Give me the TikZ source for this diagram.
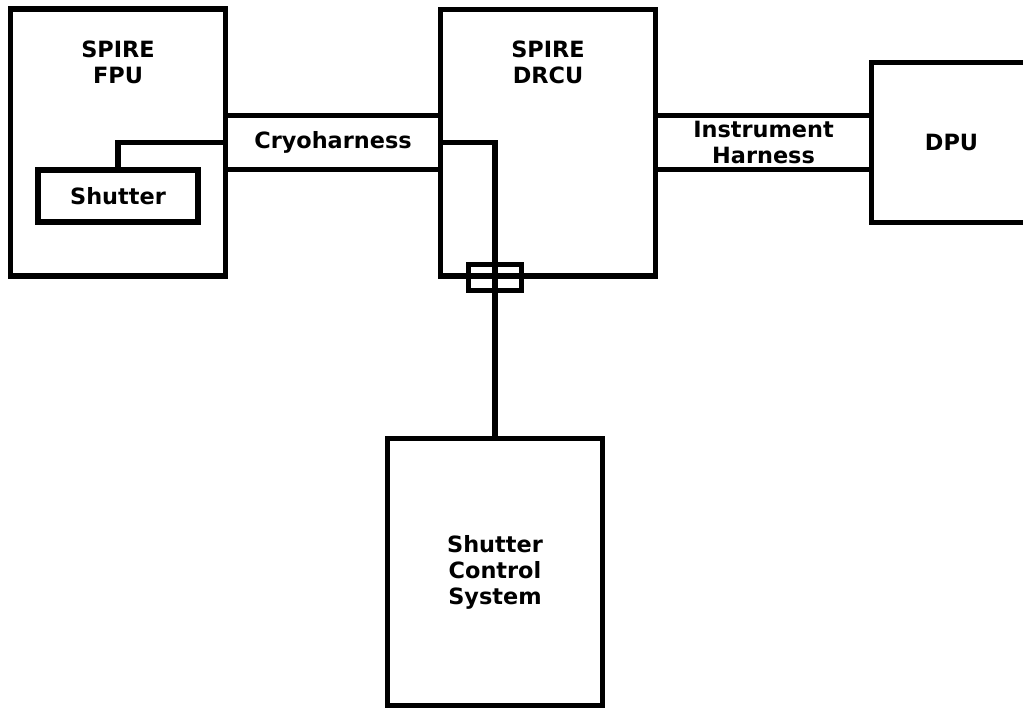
\documentclass[tikz,border=0pt]{standalone}
\usepackage{fontspec}
\setmainfont{DejaVu Sans}
\usetikzlibrary{calc}
\begin{document}
\begin{tikzpicture}[x=0.75pt,y=-0.75pt,
  every node/.style={font=\bfseries\fontsize{16.8pt}{19.5pt}\selectfont, inner sep=0pt, outer sep=0pt},
  box/.style={draw=black, fill=white, line width=3.9pt, rectangle},
  wire/.style={draw=black, line width=3.9pt},
  lbl/.style={align=center}
]
\useasboundingbox (0,0) rectangle (1023,708);
\begin{scope}
\clip (0,0) rectangle (1023,708);
% main boxes
\node[box, minimum width=161.25pt, minimum height=200.25pt] (fpu) at (118,142.5) {};
\node[box, minimum width=161.25pt, minimum height=199.875pt] (drcu) at (548,142.75) {};
\node[box, minimum width=120pt, minimum height=120pt] (dpu) at (951.5,142.5) {DPU};
\node[box, minimum width=161.25pt, minimum height=200.25pt, lbl] (scs) at (495,572) {Shutter\\Control\\System};
\node[box, minimum width=120pt, minimum height=39pt] (shutter) at (118,196) {Shutter};
\node[draw=black, line width=3.9pt, minimum width=39.75pt, minimum height=19.5pt] (conn) at (495,277.5) {};
% titles
\node[lbl] (fputitle) at ([yshift=-40.1pt]fpu.north) {SPIRE\\FPU};
\node[lbl] (drcutitle) at ([yshift=-39.75pt]drcu.north) {SPIRE\\DRCU};
% harnesses
\draw[wire] ([yshift=20.25pt]fpu.east) -- ([yshift=20.25pt]fpu.east -| drcu.west);
\draw[wire] ([yshift=-20.25pt]fpu.east) -- ([yshift=-20.25pt]fpu.east -| drcu.west);
\node[lbl] (cryo) at ($(fpu.east)!0.5!(fpu.east -| drcu.west)$) {Cryoharness};
\draw[wire] ([yshift=20.25pt]dpu.west -| drcu.east) -- ([yshift=20.25pt]dpu.west);
\draw[wire] ([yshift=-20.25pt]dpu.west -| drcu.east) -- ([yshift=-20.25pt]dpu.west);
\node[lbl] (instr) at ($(dpu.west -| drcu.east)!0.5!(dpu.west)$) {Instrument\\Harness};
% shutter control wiring
\draw[wire] (shutter.north) -- (shutter.north |- fpu.east) -- (fpu.east);
\draw[wire] (drcu.west) -- (drcu.west -| scs.north) -- (scs.north);
\end{scope}
\end{tikzpicture}
\end{document}
